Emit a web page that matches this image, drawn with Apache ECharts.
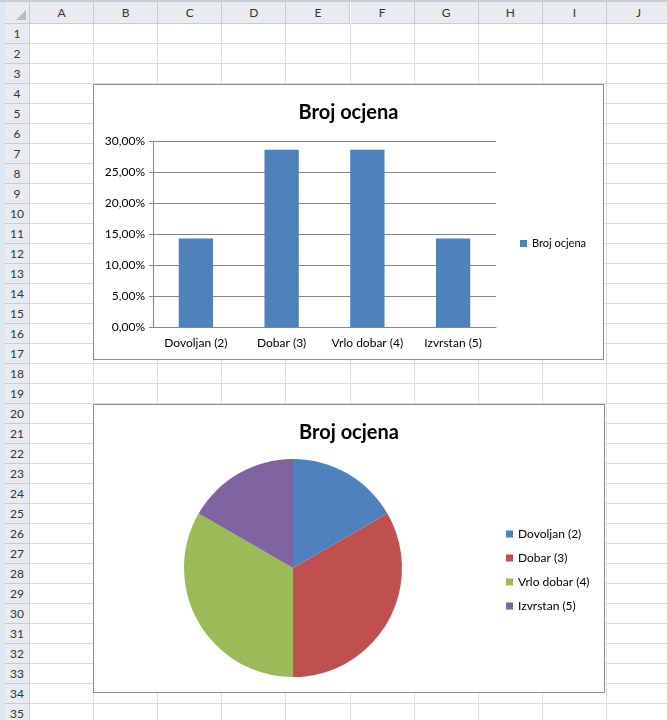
<!DOCTYPE html>
<html>
<head>
<meta charset="utf-8">
<script src="https://cdn.jsdelivr.net/npm/echarts@6/dist/echarts.min.js"></script>
<style>
  body { margin: 0; width: 667px; height: 720px; overflow: hidden; background: #fff; position: relative; font-family: Lato, "Noto Sans", sans-serif; }
  .strip { position: absolute; left: 0; top: 0; width: 5px; height: 720px; background: #dce7f2; }
  .colhead { position: absolute; top: 2px; height: 22px; background: #e8ecf1; border-right: 1px solid #c7ccd3; border-bottom: 1px solid #c7ccd3; box-sizing: border-box; text-align: center; line-height: 22px; font-size: 12px; color: #333; }
  .rowhead { position: absolute; left: 5px; width: 25px; height: 20px; background: #e8ecf1; border-bottom: 1px solid #c7ccd3; border-right: 1px solid #c7ccd3; box-sizing: border-box; text-align: center; line-height: 20px; font-size: 12px; color: #333; }
  .vline { position: absolute; top: 24px; width: 1px; height: 700px; background: #dadcdd; }
  .hline { position: absolute; left: 30px; width: 640px; height: 1px; background: #dadcdd; }
  .corner { position: absolute; left: 5px; top: 2px; width: 25px; height: 22px; background: #e8ecf1; border-right: 1px solid #c7ccd3; border-bottom: 1px solid #c7ccd3; box-sizing: border-box; }
  .corner:after { content: ""; position: absolute; right: 3px; bottom: 3px; border-style: solid; border-width: 0 0 10px 10px; border-color: transparent transparent #b5bcc6 transparent; }
  .topbar { position: absolute; left: 0; top: 0; width: 667px; height: 2px; background: #c9ced6; }
  .chartbox { position: absolute; background: #fff; border: 1px solid #8c8c8c; box-sizing: border-box; }
</style>
</head>
<body>
<div class="strip"></div>
<div class="topbar"></div>
<div id="sheet"></div>
<div id="bar" class="chartbox" style="left:93px;top:84px;width:511px;height:276px;"></div>
<div id="pie" class="chartbox" style="left:93px;top:404px;width:512px;height:289px;"></div>
<script>
const columns = ['A', 'B', 'C', 'D', 'E', 'F', 'G', 'H', 'I', 'J'];
const rowCount = 35;
const chartTitle = 'Broj ocjena';
const grades = ['Dovoljan (2)', 'Dobar (3)', 'Vrlo dobar (4)', 'Izvrstan (5)'];
const gradeShare = [0.1429, 0.2857, 0.2857, 0.1429];
const gradeCount = [1, 2, 2, 1];
const colors = ['#4F81BD', '#C0504D', '#9BBB59', '#8064A2'];

// spreadsheet background
const sheet = document.getElementById('sheet');
let html = '<div class="corner"></div>';
columns.forEach((c, i) => {
  const x = 30 + i * 64.1;
  html += '<div class="colhead" style="left:' + x + 'px;width:64.1px">' + c + '</div>';
  html += '<div class="vline" style="left:' + (x + 63.1) + 'px"></div>';
});
for (let r = 1; r <= rowCount; r++) {
  const y = 24 + (r - 1) * 20;
  html += '<div class="rowhead" style="top:' + y + 'px">' + r + '</div>';
  html += '<div class="hline" style="top:' + (y + 19) + 'px"></div>';
}
sheet.innerHTML = html;

const font = 'Lato, "Noto Sans", sans-serif';

const barChart = echarts.init(document.getElementById('bar'));
barChart.setOption({
  animation: false,
  textStyle: { fontFamily: font },
  title: {
    text: chartTitle,
    left: 'center',
    top: 13,
    textStyle: { fontSize: 20, fontWeight: 'bold', color: '#000', fontFamily: font }
  },
  legend: {
    data: [chartTitle],
    orient: 'vertical',
    left: 421,
    top: 148,
    itemWidth: 7,
    itemHeight: 7,
    icon: 'rect',
    textStyle: { fontSize: 11, color: '#000' }
  },
  grid: { left: 59, top: 56, width: 343, height: 186 },
  xAxis: {
    type: 'category',
    data: grades,
    axisLine: { lineStyle: { color: '#868686' } },
    axisTick: { length: 4, lineStyle: { color: '#868686' } },
    axisLabel: { color: '#000', fontSize: 12, margin: 10, interval: 0 }
  },
  yAxis: {
    type: 'value',
    min: 0,
    max: 0.3,
    interval: 0.05,
    axisLine: { show: true, lineStyle: { color: '#868686' } },
    axisTick: { show: true, length: 4, lineStyle: { color: '#868686' } },
    splitLine: { lineStyle: { color: '#868686' } },
    axisLabel: {
      color: '#000',
      fontSize: 12,
      margin: 8,
      formatter: v => (v * 100).toFixed(2).replace('.', ',') + '%'
    }
  },
  series: [{
    name: chartTitle,
    type: 'bar',
    data: gradeShare,
    barCategoryGap: '60%',
    itemStyle: { color: colors[0] }
  }]
});

const pieChart = echarts.init(document.getElementById('pie'));
pieChart.setOption({
  animation: false,
  textStyle: { fontFamily: font },
  color: colors,
  title: {
    text: chartTitle,
    left: 'center',
    top: 13,
    textStyle: { fontSize: 20, fontWeight: 'bold', color: '#000', fontFamily: font }
  },
  legend: {
    data: grades,
    orient: 'vertical',
    left: 407,
    top: 117,
    itemWidth: 7,
    itemHeight: 7,
    itemGap: 10,
    icon: 'rect',
    textStyle: { fontSize: 12, color: '#000', lineHeight: 14 }
  },
  series: [{
    type: 'pie',
    center: [199, 163],
    radius: 109,
    startAngle: 90,
    label: { show: false },
    labelLine: { show: false },
    itemStyle: { borderColor: '#fff', borderWidth: 0 },
    data: grades.map((g, i) => ({ name: g, value: gradeCount[i] }))
  }]
});
</script>
</body>
</html>
